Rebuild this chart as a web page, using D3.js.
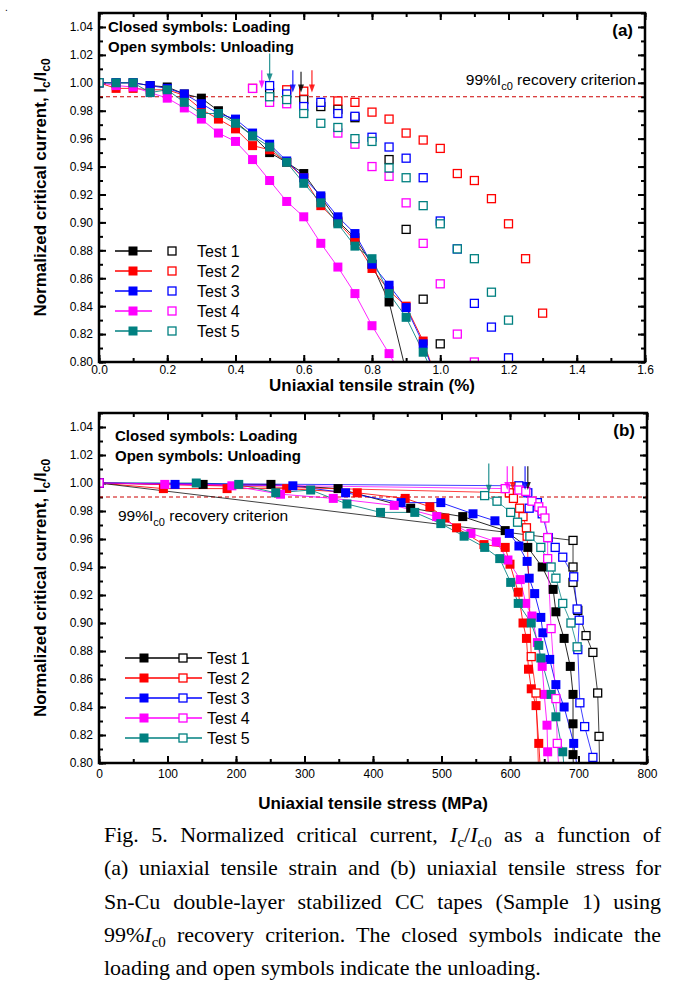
<!DOCTYPE html>
<html><head><meta charset="utf-8">
<script src="https://cdn.jsdelivr.net/npm/d3@7"></script>
<style>body{margin:0;background:#fff} svg{display:block}</style>
</head><body><svg id="c" width="675" height="996"></svg>
<script>
// ---------- DATA ----------
const testNames = ["Test 1","Test 2","Test 3","Test 4","Test 5"];
const testColors = ["#000000","#ff0000","#0000ff","#ff00ff","#008080"];

// Panel (a): [strain %, Ic/Ic0] loading (closed)
const aLoad1 = [[0,1.0],[0.05,1.0],[0.1,1.0],[0.15,0.998],[0.2,0.997],[0.25,0.992],[0.3,0.989],[0.35,0.980],[0.4,0.972],[0.45,0.962],[0.5,0.950],[0.55,0.943],[0.6,0.935],[0.65,0.918],[0.7,0.901],[0.75,0.889],[0.8,0.870],[0.85,0.843],[0.9,0.793]];
const aLoad2 = [[0,1.0],[0.05,0.996],[0.1,0.996],[0.15,0.995],[0.2,0.995],[0.25,0.991],[0.3,0.981],[0.35,0.974],[0.4,0.967],[0.45,0.955],[0.5,0.952],[0.55,0.943],[0.6,0.932],[0.65,0.912],[0.7,0.900],[0.75,0.887],[0.8,0.867],[0.85,0.851],[0.9,0.840],[0.95,0.815],[1.0,0.780]];
const aLoad3 = [[0,1.0],[0.05,1.0],[0.1,1.0],[0.15,0.998],[0.2,0.996],[0.25,0.992],[0.3,0.985],[0.35,0.978],[0.4,0.974],[0.45,0.964],[0.5,0.956],[0.55,0.944],[0.6,0.932],[0.65,0.919],[0.7,0.904],[0.75,0.892],[0.8,0.870],[0.85,0.855],[0.9,0.839],[0.95,0.813],[1.0,0.780]];
const aLoad4 = [[0,1.0],[0.05,0.998],[0.1,0.997],[0.15,0.993],[0.2,0.989],[0.25,0.982],[0.3,0.974],[0.35,0.964],[0.4,0.958],[0.45,0.945],[0.5,0.930],[0.55,0.915],[0.6,0.904],[0.65,0.885],[0.7,0.868],[0.75,0.849],[0.8,0.826],[0.85,0.806],[0.9,0.784]];
const aLoad5 = [[0,1.0],[0.05,1.0],[0.1,1.0],[0.15,0.993],[0.2,0.995],[0.25,0.986],[0.3,0.978],[0.35,0.978],[0.4,0.971],[0.45,0.962],[0.5,0.954],[0.55,0.943],[0.6,0.928],[0.65,0.914],[0.7,0.899],[0.75,0.883],[0.8,0.874],[0.85,0.849],[0.9,0.832],[0.95,0.807],[1.0,0.780]];
// Panel (a): unloading (open)
const aUnload1 = [[0.5,0.993],[0.6,0.988],[0.65,0.983],[0.7,0.981],[0.75,0.975],[0.85,0.945],[0.9,0.895],[0.95,0.845],[1.0,0.813]];
const aUnload2 = [[0.45,0.996],[0.55,0.995],[0.6,0.994],[0.7,0.987],[0.75,0.986],[0.8,0.979],[0.85,0.974],[0.9,0.964],[0.95,0.959],[1.0,0.953],[1.05,0.935],[1.1,0.930],[1.15,0.917],[1.2,0.899],[1.25,0.874],[1.3,0.835]];
const aUnload3 = [[0.5,0.998],[0.55,0.992],[0.6,0.983],[0.65,0.986],[0.7,0.978],[0.75,0.976],[0.8,0.961],[0.85,0.954],[0.9,0.946],[0.95,0.932],[1.0,0.901],[1.05,0.881],[1.1,0.842],[1.15,0.825],[1.2,0.803]];
const aUnload4 = [[0.45,0.996],[0.5,0.986],[0.55,0.985],[0.7,0.964],[0.75,0.956],[0.8,0.940],[0.85,0.933],[0.9,0.914],[0.95,0.885],[1.0,0.856],[1.05,0.820],[1.1,0.800]];
const aUnload5 = [[0,1.0],[0.5,0.990],[0.55,0.988],[0.6,0.978],[0.65,0.971],[0.7,0.968],[0.75,0.960],[0.8,0.958],[0.85,0.939],[0.9,0.932],[0.95,0.912],[1.0,0.899],[1.05,0.881],[1.1,0.874],[1.15,0.850],[1.2,0.830]];
// Panel (a): recovery-limit arrows [strain, top value, tip value]
const aArrows = [[0.592,1.008,0.993],[0.624,1.009,0.993],[0.568,1.009,0.993],[0.477,1.009,0.996],[0.5,1.021,1.001]];

// Panel (b): [stress MPa, Ic/Ic0] loading (closed)
const bLoad1 = [[0,1.0],[152,0.999],[251,0.999],[349,0.996],[455,0.982],[531,0.976],[593,0.966],[626,0.954],[647,0.940],[663,0.924],[667,0.908],[679,0.889],[688,0.869],[692,0.849],[692,0.828],[692,0.806],[693,0.790]];
const bLoad2 = [[0,1.0],[94,0.996],[187,0.996],[274,0.996],[377,0.993],[447,0.989],[483,0.983],[505,0.975],[522,0.968],[562,0.956],[593,0.954],[600,0.942],[612,0.922],[619,0.900],[624,0.889],[627,0.867],[631,0.853],[638,0.841],[642,0.814],[645,0.790]];
const bLoad3 = [[0,1.0],[111,0.999],[283,0.998],[360,0.993],[441,0.986],[499,0.986],[546,0.978],[578,0.973],[599,0.964],[613,0.955],[625,0.944],[628,0.932],[636,0.921],[645,0.904],[648,0.893],[658,0.874],[667,0.856],[679,0.840],[693,0.814],[700,0.790]];
const bLoad4 = [[0,1.0],[96,0.999],[194,0.998],[265,0.992],[342,0.989],[431,0.984],[493,0.976],[543,0.964],[580,0.958],[597,0.945],[615,0.931],[623,0.914],[632,0.905],[640,0.886],[647,0.869],[650,0.849],[654,0.827],[655,0.808],[657,0.790]];
const bLoad5 = [[0,1.0],[142,1.0],[204,0.999],[258,0.993],[309,0.995],[362,0.985],[411,0.979],[461,0.979],[499,0.971],[533,0.962],[563,0.954],[585,0.946],[601,0.929],[612,0.914],[631,0.900],[642,0.884],[645,0.875],[660,0.849],[667,0.833],[677,0.808],[680,0.790]];
// Panel (b): unloading (open)
const bUnload1 = [[0,1.0],[692,0.959],[692,0.940],[692,0.929],[699,0.909],[711,0.891],[721,0.879],[728,0.850],[730,0.819],[731,0.790]];
const bUnload2 = [[0,1.0],[599,0.993],[605,0.989],[614,0.982],[619,0.976],[624,0.968],[625,0.962],[631,0.876],[638,0.850],[642,0.790]];
const bUnload3 = [[0,1.0],[613,0.998],[626,0.993],[640,0.986],[628,0.982],[647,0.978],[656,0.961],[666,0.954],[677,0.947],[693,0.933],[698,0.910],[701,0.902],[699,0.881],[702,0.843],[709,0.826],[721,0.804],[725,0.790]];
const bUnload4 = [[0,1.0],[593,0.996],[613,0.995],[623,0.994],[632,0.987],[642,0.983],[647,0.980],[651,0.975],[655,0.961],[655,0.946],[660,0.896],[667,0.846],[669,0.814],[672,0.790]];
const bUnload5 = [[563,0.991],[581,0.987],[601,0.979],[611,0.972],[629,0.962],[645,0.954],[660,0.940],[667,0.932],[677,0.914],[689,0.900],[698,0.883]];
const bArrows = [[626,1.012,0.995],[604,1.012,0.995],[622,1.012,0.995],[596,1.012,0.995],[569,1.014,0.993]];

const aXTicks = [0,0.2,0.4,0.6,0.8,1.0,1.2,1.4,1.6];
const bXTicks = [0,100,200,300,400,500,600,700,800];
const yTicks = [0.80,0.82,0.84,0.86,0.88,0.90,0.92,0.94,0.96,0.98,1.00,1.02,1.04];
const criterion = 0.99;

// ---------- DRAW ----------
const svg = d3.select("#c");
const SANS = "'Liberation Sans', Arial, sans-serif";
svg.append("rect").attr("width",675).attr("height",996).attr("fill","#fff");
svg.append("text").attr("x",5).attr("y",11).attr("font-family",SANS).attr("font-size",10).text(".");

function panel(id, box, xDomain, xTicks, xMinorStep, xFmt, load, unload, arrows, connectOpen, opts){
  const x = d3.scaleLinear().domain(xDomain).range([box.l, box.r]);
  const y = d3.scaleLinear().domain([0.80,1.05]).range([box.b, box.t]);
  const g = svg.append("g");
  const clipId = "clip"+id;
  svg.append("clipPath").attr("id",clipId).append("rect")
     .attr("x",box.l).attr("y",box.t).attr("width",box.r-box.l).attr("height",box.b-box.t);

  const xMinor = d3.range(xDomain[0], xDomain[1]+xMinorStep/2, xMinorStep);
  const yMinor = d3.range(0.80, 1.05+0.001, 0.01);

  function ax(gen, tr, ticks, size, fmt, pad){
    const a = g.append("g").attr("transform",tr)
      .call(gen.tickValues(ticks).tickSizeInner(size).tickSizeOuter(0).tickPadding(pad).tickFormat(fmt));
    a.select(".domain").remove();
    a.selectAll("line").attr("stroke","#000").attr("stroke-width",2);
    a.selectAll("text").attr("font-family",SANS).attr("font-size",12).attr("fill","#000");
    return a;
  }
  const none = () => "";
  ax(d3.axisBottom(x), `translate(0,${box.b})`, xMinor, -4, none, 0);
  ax(d3.axisBottom(x), `translate(0,${box.b})`, xTicks, -7, xFmt, opts.xPad);
  ax(d3.axisTop(x), `translate(0,${box.t})`, xMinor, -4, none, 0);
  ax(d3.axisTop(x), `translate(0,${box.t})`, xTicks, -7, none, 0);
  ax(d3.axisLeft(y), `translate(${box.l},0)`, yMinor, -4, none, 0);
  ax(d3.axisLeft(y), `translate(${box.l},0)`, yTicks, -7, d3.format(".2f"), 6);
  ax(d3.axisRight(y), `translate(${box.r},0)`, yMinor, -4, none, 0);
  ax(d3.axisRight(y), `translate(${box.r},0)`, yTicks, -7, none, 0);

  // criterion line
  g.append("line").attr("x1",box.l).attr("x2",box.r).attr("y1",y(criterion)).attr("y2",y(criterion))
   .attr("stroke","#cc0000").attr("stroke-width",1).attr("stroke-dasharray","4,3");

  const data = g.append("g").attr("clip-path",`url(#${clipId})`);
  const line = d3.line().x(d=>x(d[0])).y(d=>y(d[1]));
  const S = 9, So = 8;
  load.forEach((s,i)=>{
    data.append("path").attr("d",line(s)).attr("fill","none").attr("stroke",testColors[i]).attr("stroke-width",1).attr("stroke-opacity",0.85);
  });
  if(connectOpen) unload.forEach((s,i)=>{
    data.append("path").attr("d",line(s)).attr("fill","none").attr("stroke",testColors[i]).attr("stroke-width",1).attr("stroke-opacity",0.75);
  });
  load.forEach((s,i)=>{
    data.selectAll(null).data(s).enter().append("rect")
      .attr("x",d=>x(d[0])-S/2).attr("y",d=>y(d[1])-S/2).attr("width",S).attr("height",S)
      .attr("fill",testColors[i]);
  });
  unload.forEach((s,i)=>{
    data.selectAll(null).data(s).enter().append("rect")
      .attr("x",d=>x(d[0])-So/2).attr("y",d=>y(d[1])-So/2).attr("width",So).attr("height",So)
      .attr("fill","#fff").attr("stroke",testColors[i]).attr("stroke-width",1.3);
  });
  // arrows
  arrows.forEach((a,i)=>{
    const cx = x(a[0]), y0 = y(a[1]), y1 = y(a[2]);
    const col = testColors[i];
    g.append("line").attr("x1",cx).attr("x2",cx).attr("y1",y0).attr("y2",y1-6)
      .attr("stroke",col).attr("stroke-width",1.3).attr("stroke-opacity",0.8);
    g.append("path").attr("d",`M${cx-3},${y1-8}L${cx+3},${y1-8}L${cx},${y1}Z`).attr("fill",col).attr("fill-opacity",0.85);
  });
  // frame
  g.append("rect").attr("x",box.l).attr("y",box.t).attr("width",box.r-box.l).attr("height",box.b-box.t)
   .attr("fill","none").attr("stroke","#000").attr("stroke-width",2.5);

  // annotations
  g.append("text").attr("x",opts.noteX).attr("y",opts.noteY).attr("font-family",SANS).attr("font-size",15).attr("font-weight","bold")
   .text("Closed symbols: Loading");
  g.append("text").attr("x",opts.noteX).attr("y",opts.noteY+20).attr("font-family",SANS).attr("font-size",15).attr("font-weight","bold")
   .text("Open symbols: Unloading");
  g.append("text").attr("x",box.r-12).attr("y",box.t+23).attr("text-anchor","end").attr("font-family",SANS)
   .attr("font-size",17).attr("font-weight","bold").text(opts.tag);
  const crit = g.append("text").attr("x",opts.critX).attr("y",opts.critY).attr("text-anchor",opts.critAnchor)
   .attr("font-family",SANS).attr("font-size",15.5);
  crit.append("tspan").text("99%I");
  crit.append("tspan").attr("font-size",11).attr("dy",5).text("c0");
  crit.append("tspan").attr("dy",-5).text(" recovery criterion");

  // legend
  testNames.forEach((n,i)=>{
    const ly = opts.legY + i*20;
    const lg = g.append("g");
    lg.append("line").attr("x1",opts.legL1).attr("x2",opts.legL2).attr("y1",ly).attr("y2",ly).attr("stroke",testColors[i]).attr("stroke-width",1.3);
    lg.append("rect").attr("x",opts.legC-S/2).attr("y",ly-S/2).attr("width",S).attr("height",S).attr("fill",testColors[i]);
    lg.append("rect").attr("x",opts.legO-So/2).attr("y",ly-So/2).attr("width",So).attr("height",So).attr("fill","#fff").attr("stroke",testColors[i]).attr("stroke-width",1.3);
    lg.append("text").attr("x",opts.legT).attr("y",ly+6).attr("font-family",SANS).attr("font-size",16).text(n);
  });

  // axis titles
  g.append("text").attr("x",(box.l+box.r)/2).attr("y",opts.xTitleY).attr("text-anchor","middle")
   .attr("font-family",SANS).attr("font-size",17).attr("font-weight","bold").text(opts.xTitle);
  const yt = g.append("text").attr("transform",`translate(${opts.yTitleX},${(box.t+box.b)/2}) rotate(-90)`)
   .attr("text-anchor","middle").attr("font-family",SANS).attr("font-size",17).attr("font-weight","bold");
  yt.append("tspan").text("Normalized critical current, I");
  yt.append("tspan").attr("font-size",12).attr("dy",4).text("c");
  yt.append("tspan").attr("dy",-4).text("/I");
  yt.append("tspan").attr("font-size",12).attr("dy",4).text("c0");
}

panel("a", {l:99,r:645,t:13,b:362}, [0,1.6], aXTicks, 0.1, d3.format(".1f"),
  [aLoad1,aLoad2,aLoad3,aLoad4,aLoad5], [aUnload1,aUnload2,aUnload3,aUnload4,aUnload5], aArrows, false,
  {noteX:108, noteY:32, tag:"(a)", critX:636, critY:85, critAnchor:"end", xPad:3, xTitleY:391,
   legY:251, legL1:115, legL2:152, legC:133, legO:172, legT:197,
   xTitle:"Uniaxial tensile strain (%)", yTitleX:46});

panel("b", {l:99,r:647,t:413,b:763}, [0,800], bXTicks, 50, d3.format("d"),
  [bLoad1,bLoad2,bLoad3,bLoad4,bLoad5], [bUnload1,bUnload2,bUnload3,bUnload4,bUnload5], bArrows, true,
  {noteX:115, noteY:441, tag:"(b)", critX:118, critY:521, critAnchor:"start", xPad:6, xTitleY:809,
   legY:658, legL1:125, legL2:202, legC:144, legO:183, legT:207,
   xTitle:"Uniaxial tensile stress (MPa)", yTitleX:46});

// ---------- CAPTION ----------
const SERIF = "'Liberation Serif', 'Times New Roman', serif";
const capLines = [
  [["Fig. 5. Normalized critical current, "],["I","i"],["c","sub"],["/"],["I","i"],["c0","sub"],[" as a function of"]],
  [["(a) uniaxial tensile strain and (b) uniaxial tensile stress for"]],
  [["Sn-Cu double-layer stabilized CC tapes (Sample 1) using"]],
  [["99%"],["I","i"],["c0","sub"],[" recovery criterion. The closed symbols indicate the"]],
  [["loading and open symbols indicate the unloading."]]
];
const capL = 104, capR = 661, capY0 = 842, capDY = 33.3;
capLines.forEach((parts,li)=>{
  const t = svg.append("text").attr("x",capL).attr("y",capY0+li*capDY)
    .attr("font-family",SERIF).attr("font-size",22).attr("fill","#000");
  let prevSub = false;
  parts.forEach(p=>{
    const ts = t.append("tspan").text(p[0]);
    if(p[1]==="i") ts.attr("font-style","italic");
    if(p[1]==="sub") { ts.attr("font-size",15).attr("dy", prevSub?0:5); }
    else if(prevSub) ts.attr("dy",-5);
    prevSub = p[1]==="sub";
  });
  if(li < capLines.length-1){
    const w = t.node().getComputedTextLength();
    const full = parts.map(p=>p[0]).join("");
    const spaces = (full.match(/ /g)||[]).length;
    if(spaces>0) t.attr("word-spacing", (capR-capL-w)/spaces);
  }
});
</script></body></html>
